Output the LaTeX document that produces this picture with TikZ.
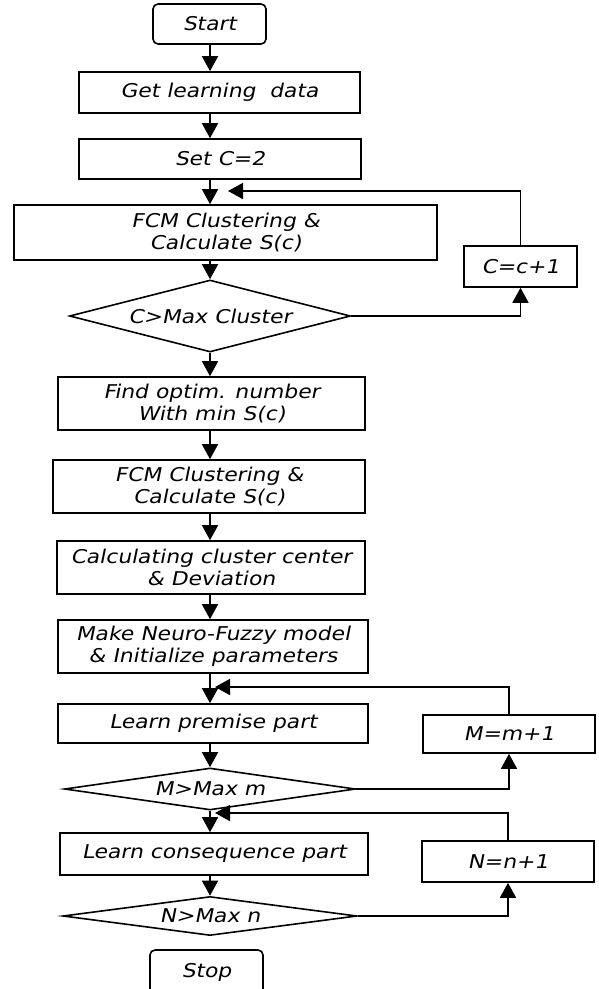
\documentclass[tikz,border=0pt]{standalone}
\usepackage{fontspec}
\newfontfamily\fc{DejaVu Sans}[FakeStretch=1.15,FakeSlant=0.2]
\usetikzlibrary{arrows.meta,shapes.geometric}
\begin{document}
\begin{tikzpicture}[x=1pt,y=-1pt,
  line width=1.6pt,
  every node/.style={font=\fc\fontsize{19}{22}\selectfont, align=center, inner sep=0pt},
  box/.style={draw, rectangle},
  termbox/.style={draw, rectangle, rounded corners=5pt},
  decide/.style={draw, diamond, aspect=8},
  arr/.style={-{Triangle[length=15pt,width=16pt]}}]
\useasboundingbox (0,0) rectangle (599,989);
\clip (0,0) rectangle (599,989);
\fill[white] (0,0) rectangle (599,989);
\coordinate (col) at (210,0);
% main column
\node[termbox, minimum width=113, minimum height=40] (start) at (209.5,24) {Start};
\node[box, minimum width=281, minimum height=41] (get) at (219.5,92.5) {Get learning \ data};
\node[box, minimum width=282, minimum height=40] (setc) at (220,159) {Set C=2};
\node[box, minimum width=423, minimum height=55] (fcma) at (225.5,232.5) {FCM Clustering \&\\Calculate S(c)\hspace*{0pt}};
\node[decide, minimum width=281, minimum height=72] (da) at (210,316) {C>Max Cluster};
\node[box, minimum width=113, minimum height=41] (cinc) at (520.5,266.5) {C=c+1};
\node[box, minimum width=307, minimum height=53] (find) at (211.5,403.5) {Find optim. number\\With min S(c)};
\node[box, minimum width=312, minimum height=53] (fcmb) at (209,486.5) {FCM Clustering \&\\Calculate S(c)};
\node[box, minimum width=308, minimum height=53] (calc) at (211,567.5) {Calculating cluster center\\\& Deviation};
\node[box, minimum width=310, minimum height=53] (make) at (213,646.5) {Make Neuro-Fuzzy model\\\& Initialize parameters};
\node[box, minimum width=310, minimum height=39] (learnp) at (213,723.5) {Learn premise part};
\node[box, minimum width=172, minimum height=38] (minc) at (509,734) {M=m+1};
\node[decide, minimum width=291, minimum height=42] (db) at (210,789) {M>Max m};
\node[box, minimum width=308, minimum height=42] (learnc) at (214,854) {Learn consequence part};
\node[box, minimum width=172, minimum height=41] (ninc) at (508,861.5) {N=n+1};
\node[decide, minimum width=294, minimum height=39] (dc) at (210,916) {N>Max n};
\node[termbox, minimum width=113, minimum height=50] (stop) at (206.5,975) {};
\node (stoptxt) at (206.5,972) {Stop};
% loop targets
\coordinate (la) at (228,191);
\coordinate (lb) at (215,687);
\coordinate (lc) at (215,813);
% main arrows
\draw[arr] (start.south -| col) -- (get.north -| col);
\draw[arr] (get.south -| col) -- (setc.north -| col);
\draw[arr] (setc.south -| col) -- (fcma.north -| col);
\draw[arr] (fcma.south -| col) -- (da.north);
\draw[arr] (da.south) -- (find.north -| col);
\draw[arr] (find.south -| col) -- (fcmb.north -| col);
\draw[arr] (fcmb.south -| col) -- (calc.north -| col);
\draw[arr] (calc.south -| col) -- (make.north -| col);
\draw[arr] (make.south -| col) -- (learnp.north -| col);
\draw[arr] (learnp.south -| col) -- (db.north);
\draw[arr] (db.south) -- (learnc.north -| col);
\draw[arr] (learnc.south -| col) -- (dc.north);
% loops
\draw[arr] (da.east) -| (cinc.south);
\draw[arr] (cinc.north) |- (la);
\draw[arr] (db.east) -| (minc.south);
\draw[arr] (minc.north) |- (lb);
\draw[arr] (dc.east) -| (ninc.south);
\draw[arr] (ninc.north) |- (lc);
\end{tikzpicture}
\end{document}
